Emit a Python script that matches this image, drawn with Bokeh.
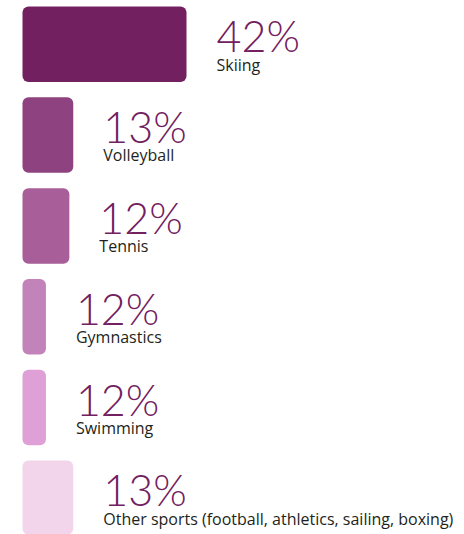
from bokeh.plotting import figure
from bokeh.models import Range1d, ColumnDataSource
from bokeh.core.properties import value
from bokeh.embed import file_html
from bokeh.resources import INLINE

# Data
sports = ["Skiing", "Volleyball", "Tennis", "Gymnastics", "Swimming",
          "Other sports (football, athletics, sailing, boxing)"]
shares = [42, 13, 12, 12, 12, 13]            # printed percentages
bar_lengths = [42, 13, 12, 6, 6, 13]          # drawn bar lengths as in the picture
colors = ["#722060", "#8f4280", "#a85e98", "#c282ba", "#dea0d6", "#f2d5eb"]

rows = list(range(len(sports)))
src = ColumnDataSource(dict(
    y=rows,
    length=bar_lengths,
    pct=[f"{s}%" for s in shares],
    label=sports,
    color=colors,
))

W, H = 464, 534
px_per_unit = 3.905
x0 = -22 / px_per_unit
row_px = 90.8
y_top = -43.8 / row_px

p = figure(width=W, height=H, output_backend="svg", toolbar_location=None,
           x_range=Range1d(x0, x0 + W / px_per_unit),
           y_range=Range1d(y_top + H / row_px, y_top),
           min_border=0, outline_line_color=None)
p.axis.visible = False
p.grid.visible = False
p.background_fill_color = "white"
p.border_fill_color = "white"

p.hbar(y="y", left=0, right="length", height=75.5 / row_px, color="color",
       line_color=None, border_radius=6, source=src)

p.text(x="length", y="y", text="pct", x_offset=30, y_offset=-8.5,
       text_baseline="alphabetic", text_align="left",
       text_font=value("Lato Light"), text_font_size="43px",
       text_color="#722060", source=src)

p.text(x="length", y="y", text="label", x_offset=30, y_offset=20.3,
       text_baseline="alphabetic", text_align="left",
       text_font=value("Open Sans"), text_font_size="16px",
       text_color="#231f20", source=src)

open("out.html", "w").write(file_html(p, INLINE))
